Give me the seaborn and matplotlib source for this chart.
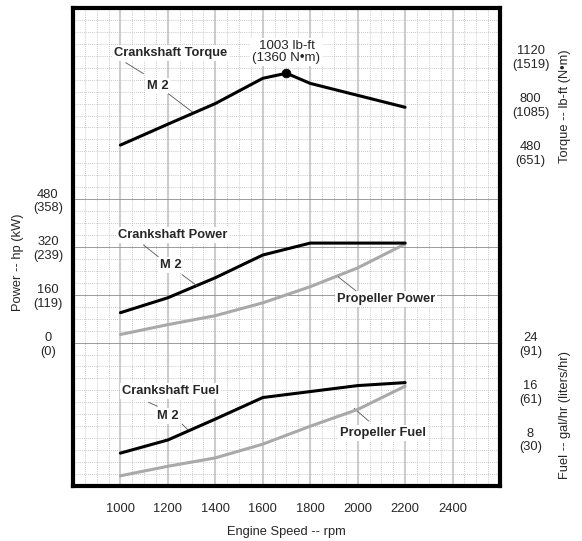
import matplotlib
matplotlib.use("Agg")
import matplotlib.pyplot as plt
import seaborn as sns
import pandas as pd
from matplotlib.ticker import MultipleLocator

# ---------------- data ----------------
rpm = [1000, 1200, 1400, 1600, 1800, 2000, 2200]
torque_rpm = [1000, 1200, 1400, 1600, 1700, 1800, 2000, 2200]
torque_lbft = [522, 662, 800, 969, 1003, 935, 855, 775]
peak_rpm = [1700]
peak_torque = [1003]
crank_power_hp = [100, 150, 217, 293, 333, 333, 333]
prop_power_hp = [27, 60, 90, 133, 187, 250, 330]
crank_fuel_gph = [5.5, 7.7, 11.2, 14.8, 15.8, 16.8, 17.3]
prop_fuel_gph = [1.7, 3.3, 4.7, 7.0, 10.0, 12.8, 16.7]

x_ticks = [1000, 1200, 1400, 1600, 1800, 2000, 2200, 2400]
power_ticks = [0, 160, 320, 480]
power_labels = ["0\n(0)", "160\n(119)", "320\n(239)", "480\n(358)"]
torque_ticks = [480, 800, 1120]
torque_labels = ["480\n(651)", "800\n(1085)", "1120\n(1519)"]
fuel_ticks = [8, 16, 24]
fuel_labels = ["8\n(30)", "16\n(61)", "24\n(91)"]

# ---------------- style ----------------
sns.set_style("white")
plt.rcParams["font.family"] = ["Liberation Sans", "DejaVu Sans"]
plt.rcParams["font.size"] = 9.3

fig = plt.figure(figsize=(5.82, 5.41), dpi=100)
ax = fig.add_axes([0.1254, 0.1017, 0.7337, 0.8836])
ax_t = ax.twinx()
ax_f = ax.twinx()

ax.set_xlim(800, 2600)
ax.set_ylim(-480, 1120)
ax_t.set_ylim(-1760, 1440)
ax_f.set_ylim(0, 80)

# grid
ax.xaxis.set_major_locator(MultipleLocator(200))
ax.xaxis.set_minor_locator(MultipleLocator(50))
ax.yaxis.set_major_locator(MultipleLocator(160))
ax.yaxis.set_minor_locator(MultipleLocator(40))
ax.grid(which="minor", color="#b8b8b8", linestyle=(0, (1, 1.5)), linewidth=0.6)
ax.grid(which="major", axis="x", color="#cdcdcd", linestyle="-", linewidth=1.5)
ax.grid(which="major", axis="y", color="#8a8a8a", linestyle="-", linewidth=0.6)
ax.set_axisbelow(True)

black = "#000000"
gray = "#a9a9a9"
lw = 2.2

d_t = pd.DataFrame({"rpm": torque_rpm, "v": torque_lbft})
d_cp = pd.DataFrame({"rpm": rpm, "v": crank_power_hp})
d_pp = pd.DataFrame({"rpm": rpm, "v": prop_power_hp})
d_cf = pd.DataFrame({"rpm": rpm, "v": crank_fuel_gph})
d_pf = pd.DataFrame({"rpm": rpm, "v": prop_fuel_gph})

sns.lineplot(data=d_pp, x="rpm", y="v", ax=ax, color=gray, lw=lw, zorder=3)
sns.lineplot(data=d_cp, x="rpm", y="v", ax=ax, color=black, lw=lw, zorder=4)
sns.lineplot(data=d_t, x="rpm", y="v", ax=ax_t, color=black, lw=lw, zorder=4)
sns.scatterplot(x=peak_rpm, y=peak_torque, ax=ax_t, color=black, s=40, zorder=5, edgecolor=black)
sns.lineplot(data=d_pf, x="rpm", y="v", ax=ax_f, color=gray, lw=lw, zorder=3)
sns.lineplot(data=d_cf, x="rpm", y="v", ax=ax_f, color=black, lw=lw, zorder=4)

# ticks
ax.set_xticks(x_ticks)
ax.set_xticklabels([str(v) for v in x_ticks])
ax.set_yticks(power_ticks)
ax.set_yticklabels(power_labels, multialignment="center", ha="center")
ax_t.set_yticks(torque_ticks)
ax_t.set_yticklabels(torque_labels, multialignment="center", ha="center")
ax_f.set_yticks(fuel_ticks)
ax_f.set_yticklabels(fuel_labels, multialignment="center", ha="center")
for a in (ax, ax_t, ax_f):
    a.tick_params(axis="both", which="both", length=0, labelsize=9.3)
    a.set_xlabel("")
    a.set_ylabel("")
ax.tick_params(axis="x", pad=12)
ax.tick_params(axis="y", pad=18)
ax_t.tick_params(axis="y", pad=22)
ax_f.tick_params(axis="y", pad=22)

for a in (ax_t, ax_f):
    for s in a.spines.values():
        s.set_visible(False)
for s in ax.spines.values():
    s.set_visible(True)
    s.set_color("black")
    s.set_linewidth(3.0)

ax.set_xlabel("Engine Speed -- rpm", fontsize=9.3, labelpad=8)
fig.text(0.031, 0.515, "Power -- hp (kW)", rotation=90, ha="center", va="center", fontsize=9.3)
fig.text(0.970, 0.803, "Torque -- lb-ft (N\u2022m)", rotation=90, ha="center", va="center", fontsize=9.3)
fig.text(0.970, 0.232, "Fuel -- gal/hr (liters/hr)", rotation=90, ha="center", va="center", fontsize=9.3)

# annotations (in power-axis data coords)
box = dict(boxstyle="square,pad=0.15", fc="white", ec="none")
lead = dict(arrowstyle="-", color="#555555", lw=0.6, shrinkA=0, shrinkB=0)

def label(text, xy, bold=True):
    ax.text(xy[0], xy[1], text, ha="center", va="center", fontsize=9.3,
            fontweight="bold" if bold else "normal", bbox=box, zorder=6)

def leader(p0, p1):
    ax.annotate("", xy=p1, xytext=p0, arrowprops=lead, zorder=6)

label("Crankshaft Torque", (1210, 970))
leader((1022, 937), (1097, 900))
label("M 2", (1156, 860))
leader((1202, 833), (1306, 770))
ax.text(1700, 973, "1003 lb-ft\n(1360 N\u2022m)", ha="center", va="center", fontsize=9.6,
        linespacing=0.95, bbox=box, zorder=6)

label("Crankshaft Power", (1219, 360))
leader((1097, 327), (1160, 287))
label("M 2", (1214, 260))
leader((1260, 227), (1323, 190))
label("Propeller Power", (2119, 147))
leader((1993, 173), (1918, 220))

label("Crankshaft Fuel", (1210, -163))
leader((1118, -200), (1156, -213))
label("M 2", (1198, -247))
leader((1260, -273), (1286, -293))
label("Propeller Fuel", (2106, -303))
leader((2047, -263), (1985, -220))

fig.savefig("out.png", dpi=100)
